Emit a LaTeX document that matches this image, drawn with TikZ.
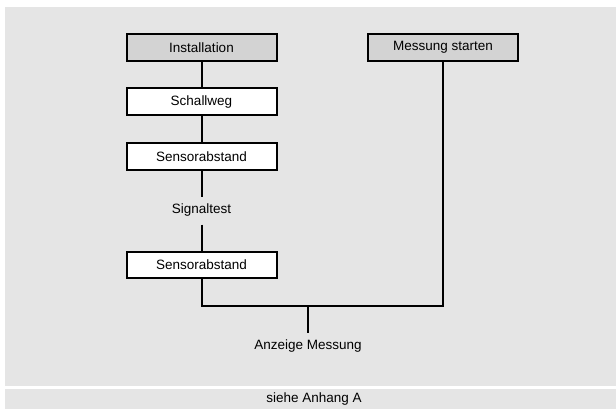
\documentclass[tikz,border=0pt]{standalone}
\usepackage{fontspec}
\setmainfont{Liberation Sans}
\begin{document}
\begin{tikzpicture}[x=1pt,y=-1pt,
  font=\fontsize{13.5}{16}\selectfont,
  conn/.style={line width=2pt},
  stepbox/.style={draw,line width=2pt,fill=white,minimum width=150pt,minimum height=26.5pt,inner sep=0pt},
  headbox/.style={stepbox,fill=headgray},
  plain/.style={inner sep=0pt}]
\definecolor{panelgray}{HTML}{E5E5E5}
\definecolor{headgray}{HTML}{D3D3D3}
\useasboundingbox (0,0) rectangle (616,409);
\fill[white] (0,0) rectangle (616,409);
\fill[panelgray] (4.7,7) rectangle (616,385.7);
\fill[panelgray] (4.7,389.3) rectangle (616,409);
\node[headbox] (inst) at (201.5,47.3) {Installation};
\node[headbox] (mess) at (443,47.3) {Messung starten};
\node[stepbox] (schall) at (201.5,101.7) {Schallweg};
\node[stepbox] (sens1) at (201.5,156.5) {Sensorabstand};
\node[plain,minimum height=27.6pt] (sig) at (201.5,210.5) {Signaltest};
\node[stepbox] (sens2) at (201.5,264.9) {Sensorabstand};
\coordinate (j) at (308,305.7);
\node[plain,minimum height=25.4pt] (anz) at (308,346) {Anzeige Messung};
\node[plain] (foot) at (314,399) {siehe Anhang A};
\draw[conn] (inst) -- (schall);
\draw[conn] (schall) -- (sens1);
\draw[conn] (sens1) -- (sig);
\draw[conn] (sig) -- (sens2);
\draw[conn] (sens2.south) |- (j) -| (mess.south);
\draw[conn] (j) -- (anz);
\end{tikzpicture}
\end{document}
